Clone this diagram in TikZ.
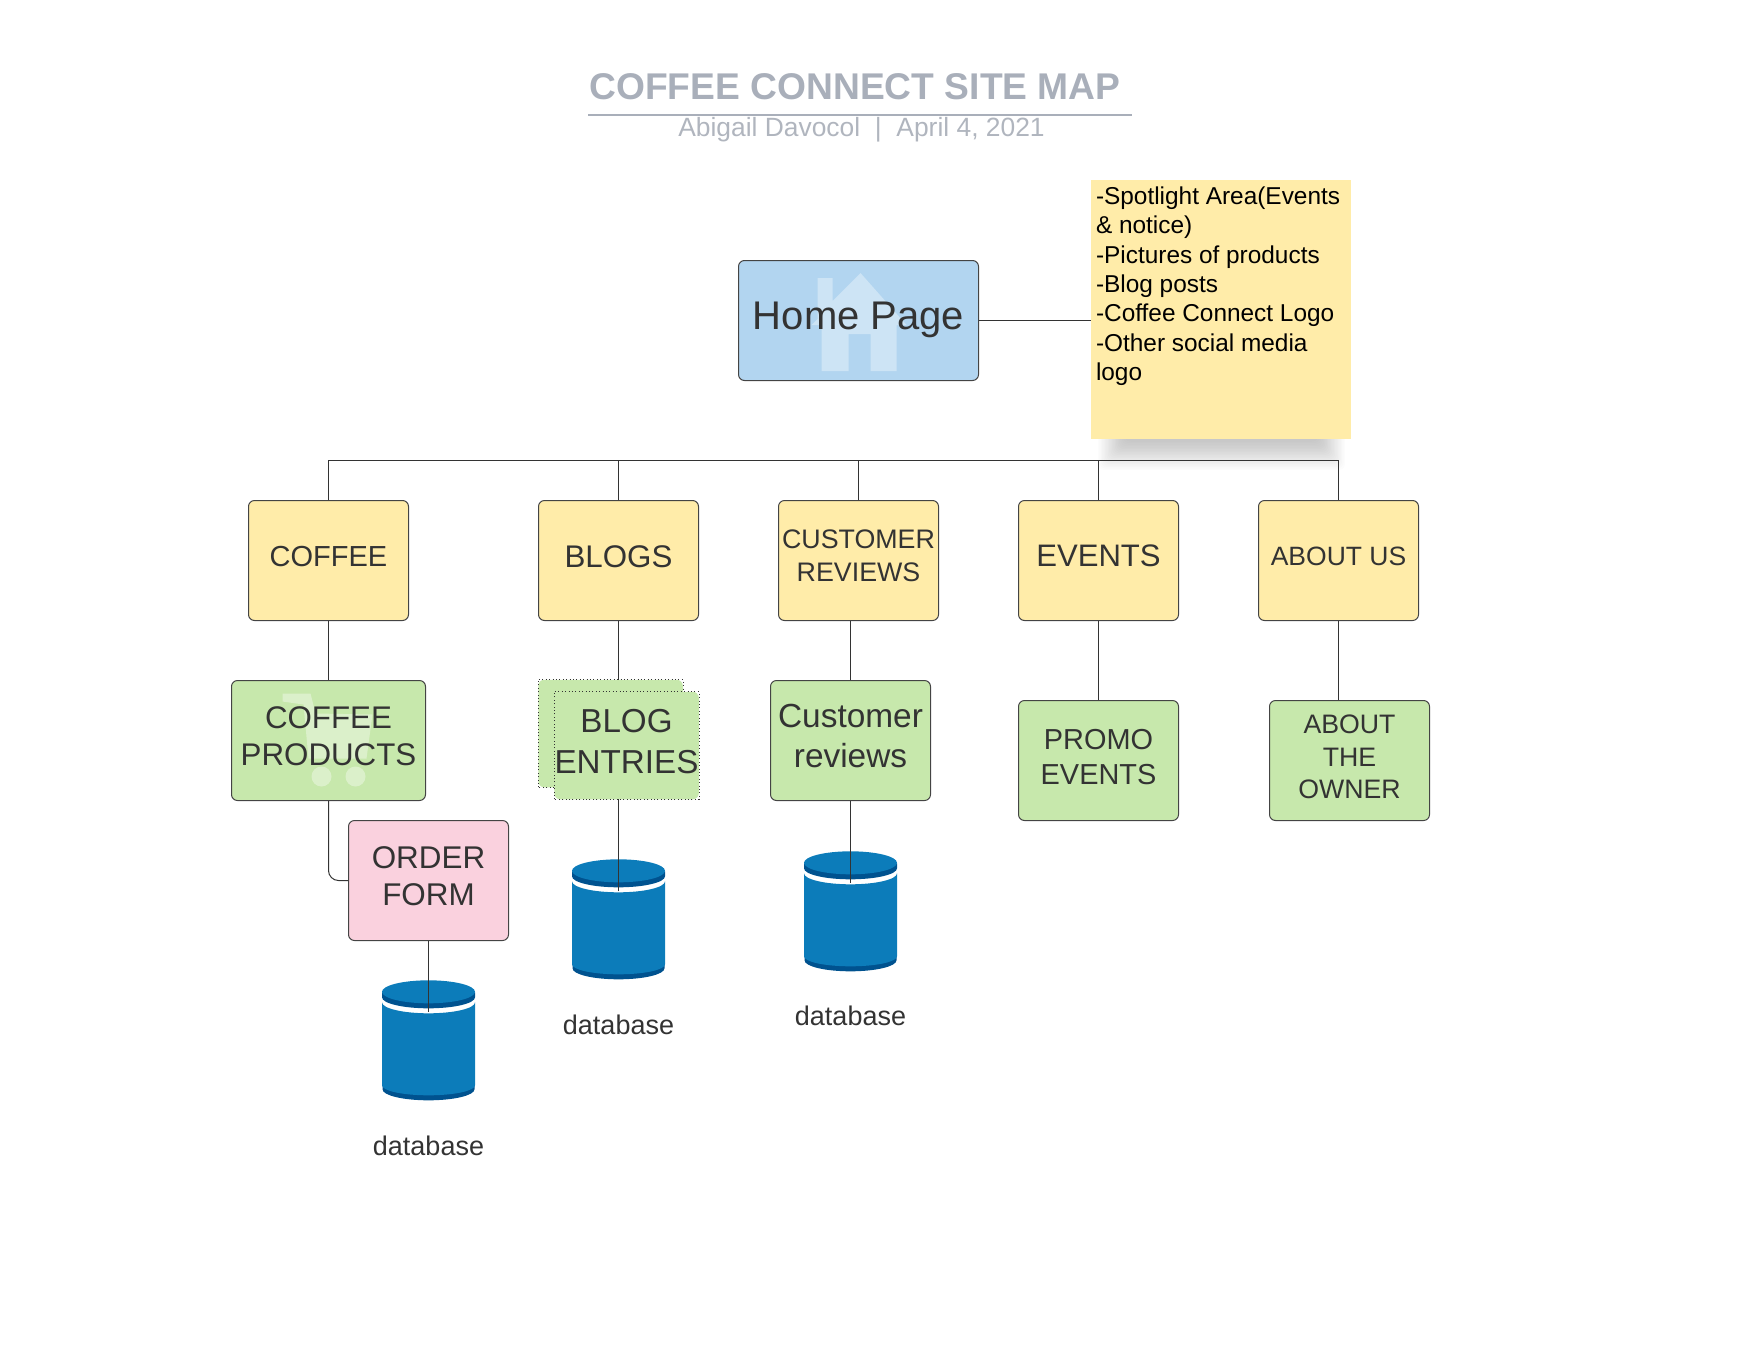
\documentclass[tikz,border=0pt]{standalone}
\usepackage{fontspec}
\setmainfont{Liberation Sans}
\usetikzlibrary{positioning}
\definecolor{inkdark}{HTML}{333333}
\definecolor{edgedark}{HTML}{444444}
\definecolor{titlegrey}{HTML}{A9AFBA}
\definecolor{subgrey}{HTML}{B0B5BE}
\definecolor{yellowfill}{HTML}{FFECA9}
\definecolor{greenfill}{HTML}{C7E8AC}
\definecolor{bluefill}{HTML}{B2D5F0}
\definecolor{pinkfill}{HTML}{FAD1DE}
\definecolor{houseblue}{HTML}{CDE4F5}
\definecolor{cartgreen}{HTML}{DBF0CA}
\definecolor{canblue}{HTML}{0C7CBA}
\definecolor{candark}{HTML}{00528F}
\tikzset{
    pagebox/.style={draw=edgedark, line width=1pt, rounded corners=6pt, inner sep=0pt, text=inkdark, align=center},
    yellowbox/.style={pagebox, fill=yellowfill, minimum width=160pt, minimum height=120pt},
    greenbox/.style={pagebox, fill=greenfill, minimum width=160pt, minimum height=120pt},
    pinkbox/.style={pagebox, fill=pinkfill, minimum width=160pt, minimum height=120pt},
    dotbox/.style={fill=greenfill, rounded corners=6pt, inner sep=0pt, minimum width=144.5pt, minimum height=107.5pt, text=inkdark, align=center},
    dotline/.style={draw=inkdark, line width=0.9pt, dash pattern=on 1pt off 2.4pt},
    link/.style={draw=inkdark, line width=1pt},
    dbbox/.style={inner sep=0pt, minimum width=93pt, minimum height=120pt},
    dblabel/.style={text=inkdark, font=\fontsize{27}{32}\selectfont},
    lift/.style={text height=#1, text depth=0pt},
    dbcan/.pic={
        \fill[candark] (-46.5,-12) -- (-46.5,-17) arc[start angle=180, end angle=360, x radius=46.5, y radius=11] -- (46.5,-12) -- cycle;
        \fill[canblue] (0,-11.5) ellipse[x radius=46.5, y radius=11.5];
        \fill[candark] (-46,-105) -- (-46,-109) arc[start angle=180, end angle=360, x radius=46, y radius=11] -- (46,-105) -- cycle;
        \fill[canblue] (-46.5,-22) arc[start angle=180, end angle=360, x radius=46.5, y radius=11] -- (46.5,-105) arc[start angle=0, end angle=-180, x radius=46.5, y radius=10] -- cycle;
    },
}
\begin{document}
\begin{tikzpicture}[x=1pt, y=1pt, on grid]
    \useasboundingbox (0,0) rectangle (1760,-1360);
    \node[text=titlegrey, anchor=base, font=\fontsize{37.2}{40}\selectfont\bfseries](title) at (855,-99){COFFEE CONNECT SITE MAP};
    \coordinate(rulel) at (588,-115);
    \coordinate(ruler) at (1132,-115);
    \draw[titlegrey, line width=1.6pt] (rulel) -- (ruler);
    \node[text=subgrey, anchor=base, font=\fontsize{26.4}{32}\selectfont](subtitle) at (861.5,-136){Abigail Davocol~~|~~April 4, 2021};
    \foreach \g in {0,...,19}
        \fill[black, opacity=0.011, rounded corners=6pt] (1098+1.4*\g,-430) rectangle (1345-1.4*\g,-470+1.5*\g);
    \node[pagebox, fill=bluefill, minimum width=240pt, minimum height=120pt](home) at (858.5,-320.5){};
    \begin{scope}[shift={(home.center)}]
        \fill[houseblue] (2,47.5) -- (-26,19.5) -- (-26,42.5) -- (-41,42.5) -- (-41,1.5) -- (-47,-4.5) -- (-37,-4.5) -- (-37,-50.5) -- (-10,-50.5) -- (-10,-13.5) -- (12,-13.5) -- (12,-50.5) -- (38,-50.5) -- (38,-4.5) -- (48,-4.5) -- cycle;
    \end{scope}
    \node[text=inkdark, font=\fontsize{40}{46}\selectfont, lift=17pt](hometext) at (home){Home Page};
    \node[fill=yellowfill, inner sep=0pt, right=362.5pt of home, yshift=11pt](notes){\parbox[c][259pt][t]{260pt}{\fontsize{24.4}{29.3}\selectfont\leftskip=5pt\vspace*{7pt}
        -Spotlight Area(Events\\
        \& notice)\\
        -Pictures of products\\
        -Blog posts\\
        -Coffee Connect Logo\\
        -Other social media\\
        logo}};
    \node[yellowbox, below left=240pt and 530pt of home, font=\fontsize{29}{35}\selectfont, lift=11pt](coffee){COFFEE};
    \node[yellowbox, right=290pt of coffee, font=\fontsize{31.3}{37}\selectfont, lift=13pt](blogs){BLOGS};
    \node[yellowbox, right=240pt of blogs, font=\fontsize{26.8}{32.5}\selectfont, lift=41pt](reviews){CUSTOMER\\REVIEWS};
    \node[yellowbox, right=240pt of reviews, font=\fontsize{31.1}{37}\selectfont, lift=12pt](events){EVENTS};
    \node[yellowbox, right=240pt of events, font=\fontsize{26.5}{33}\selectfont, lift=10pt](aboutus){ABOUT US};
    \node[greenbox, minimum width=194pt, below=180pt of coffee](products){};
    \begin{scope}[shift={(products.center)}]
        \fill[cartgreen] (-46,47) -- (-18,47) -- (-13,27) -- (44,26) -- (38,-18) -- (-20,-18) -- (-25,36) -- (-46,39) -- cycle;
        \fill[cartgreen] (-7,-36) circle[radius=10];
        \fill[cartgreen] (27,-36) circle[radius=10];
    \end{scope}
    \node[text=inkdark, align=center, font=\fontsize{31.3}{37}\selectfont, lift=49pt](productstext) at (products){COFFEE\\PRODUCTS};
    \node[pinkbox, below right=140pt and 100pt of products, font=\fontsize{31.4}{37}\selectfont, lift=50pt](order){ORDER\\FORM};
    \node[dotbox, below left=173pt and 8pt of blogs](blogsback){};
    \draw[dotline] (blogsback.south west) rectangle (blogsback.north east);
    \node[dotbox, below right=12pt and 16pt of blogsback, font=\fontsize{33.2}{40.5}\selectfont, lift=55pt](entries){BLOG\\ENTRIES};
    \draw[dotline] (entries.south west) rectangle (entries.north east);
    \node[greenbox, below left=180pt and 8pt of reviews, font=\fontsize{33.4}{40}\selectfont, lift=53pt](reviewlist){Customer\\reviews};
    \node[greenbox, below=200pt of events, font=\fontsize{28.9}{35}\selectfont, lift=48pt](promo){PROMO\\EVENTS};
    \node[greenbox, below right=200pt and 11pt of aboutus, font=\fontsize{26.7}{32.5}\selectfont, lift=76pt](owner){ABOUT\\THE\\OWNER};
    \node[dbbox, below=160pt of order](dbform){};
    \pic at (dbform.north) {dbcan};
    \coordinate[below=32pt of dbform.north](dbformend);
    \node[dblabel, below=105pt of dbform](dbformtext){database};
    \node[dbbox, below right=359pt and 0pt of blogs](dbblogs){};
    \pic at (dbblogs.north) {dbcan};
    \coordinate[below=32pt of dbblogs.north](dbblogsend);
    \node[dblabel, below=105pt of dbblogs](dbblogstext){database};
    \node[dbbox, below=171pt of reviewlist](dbreviews){};
    \pic at (dbreviews.north) {dbcan};
    \coordinate[below=32pt of dbreviews.north](dbreviewsend);
    \node[dblabel, below=104.5pt of dbreviews](dbreviewstext){database};
    \coordinate[above=100pt of coffee](busl);
    \draw[link] (home.east) -- (home.east -| notes.west);
    \draw[link] (coffee.north) |- (aboutus.north |- busl) -- (aboutus.north);
    \foreach \n in {blogs,reviews,events}
        \draw[link] (\n.north) -- (\n.north |- busl);
    \draw[link] (coffee.south) -- (products.north);
    \draw[link, rounded corners=10pt] (products.south) |- (order.west);
    \draw[link] (order.south) -- (dbformend);
    \draw[link] (blogs.south) -- (blogs.south |- blogsback.north);
    \draw[link] (dbblogsend) -- (dbblogsend |- entries.south);
    \draw[link] (reviewlist.north) -- (reviewlist.north |- reviews.south);
    \draw[link] (reviewlist.south) -- (dbreviewsend);
    \draw[link] (events.south) -- (promo.north);
    \draw[link] (aboutus.south) -- (aboutus.south |- owner.north);
\end{tikzpicture}
\end{document}
